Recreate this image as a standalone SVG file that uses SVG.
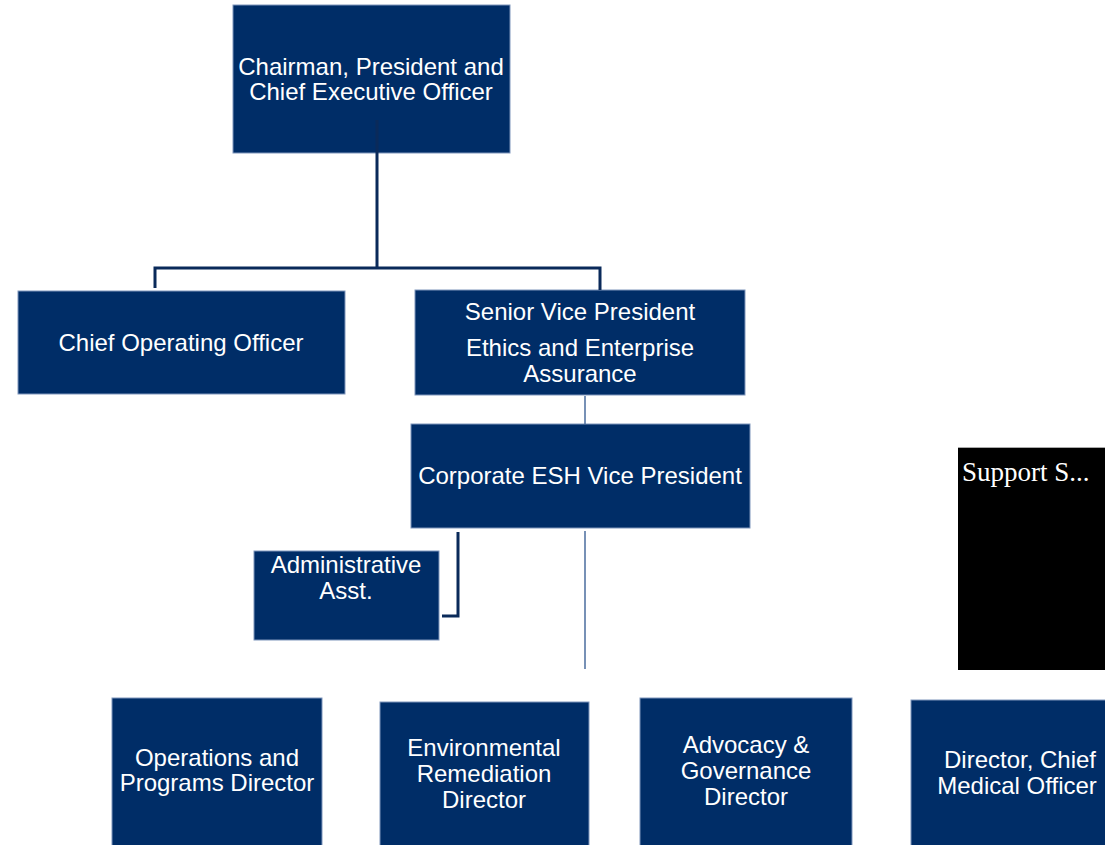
<svg xmlns="http://www.w3.org/2000/svg" width="1105" height="845" viewBox="0 0 1105 845">
<style>
.box{fill:#002D67;stroke:#7F96BC;stroke-width:1}
.t{font-family:"Liberation Sans",Arial,sans-serif;font-size:24px;fill:#FFFFFF;text-anchor:middle}
.thick{fill:none;stroke:#0A2A5A;stroke-width:3}
.thin{fill:none;stroke:#4A6C9E;stroke-width:1.5}
</style>
<rect width="1105" height="845" fill="#FFFFFF"/>
<g id="ceo"><rect class="box" x="233" y="5" width="277" height="148"/>
<text class="t" x="371" y="75">Chairman, President and</text>
<text class="t" x="371" y="100">Chief Executive Officer</text></g>
<g id="coo"><rect class="box" x="18" y="291" width="327" height="103"/>
<text class="t" x="181" y="351">Chief Operating Officer</text></g>
<g id="svp"><rect class="box" x="415" y="290" width="330" height="105"/>
<text class="t" x="580" y="320">Senior Vice President</text>
<text class="t" x="580" y="356">Ethics and Enterprise</text>
<text class="t" x="580" y="382">Assurance</text></g>
<g id="esh"><rect class="box" x="411" y="424" width="339" height="104"/>
<text class="t" x="580" y="484">Corporate ESH Vice President</text></g>
<g id="admin"><rect class="box" x="254" y="551" width="185" height="89"/>
<text class="t" x="346" y="573">Administrative</text>
<text class="t" x="346" y="599">Asst.</text></g>
<g id="ops"><rect class="box" x="112" y="698" width="210" height="150"/>
<text class="t" x="217" y="766">Operations and</text>
<text class="t" x="217" y="791">Programs Director</text></g>
<g id="env"><rect class="box" x="380" y="702" width="209" height="146"/>
<text class="t" x="484" y="756">Environmental</text>
<text class="t" x="484" y="782">Remediation</text>
<text class="t" x="484" y="808">Director</text></g>
<g id="adv"><rect class="box" x="640" y="698" width="212" height="150"/>
<text class="t" x="746" y="753">Advocacy &amp;</text>
<text class="t" x="746" y="779">Governance</text>
<text class="t" x="746" y="805">Director</text></g>
<g id="cmo"><rect class="box" x="911" y="700" width="200" height="148"/>
<text class="t" x="1020" y="768">Director, Chief</text>
<text class="t" x="1017" y="794">Medical Officer</text></g>
<g id="support"><rect x="958" y="447" width="150" height="223" fill="#000000"/>
<line x1="958" y1="447.5" x2="1105" y2="447.5" stroke="#AAAAAA" stroke-width="1"/>
<text x="962" y="481" font-family="&quot;Liberation Serif&quot;,serif" font-size="27" fill="#FFFFFF">Support S...</text></g>
<g id="connectors">
<path class="thick" d="M377,120 V268 M155,288 V268 H600 V290"/>
<path class="thin" d="M585,396 V424"/>
<path class="thick" d="M458,532 V616 H442"/>
<path class="thin" d="M585,531 V669"/>
</g>
</svg>
